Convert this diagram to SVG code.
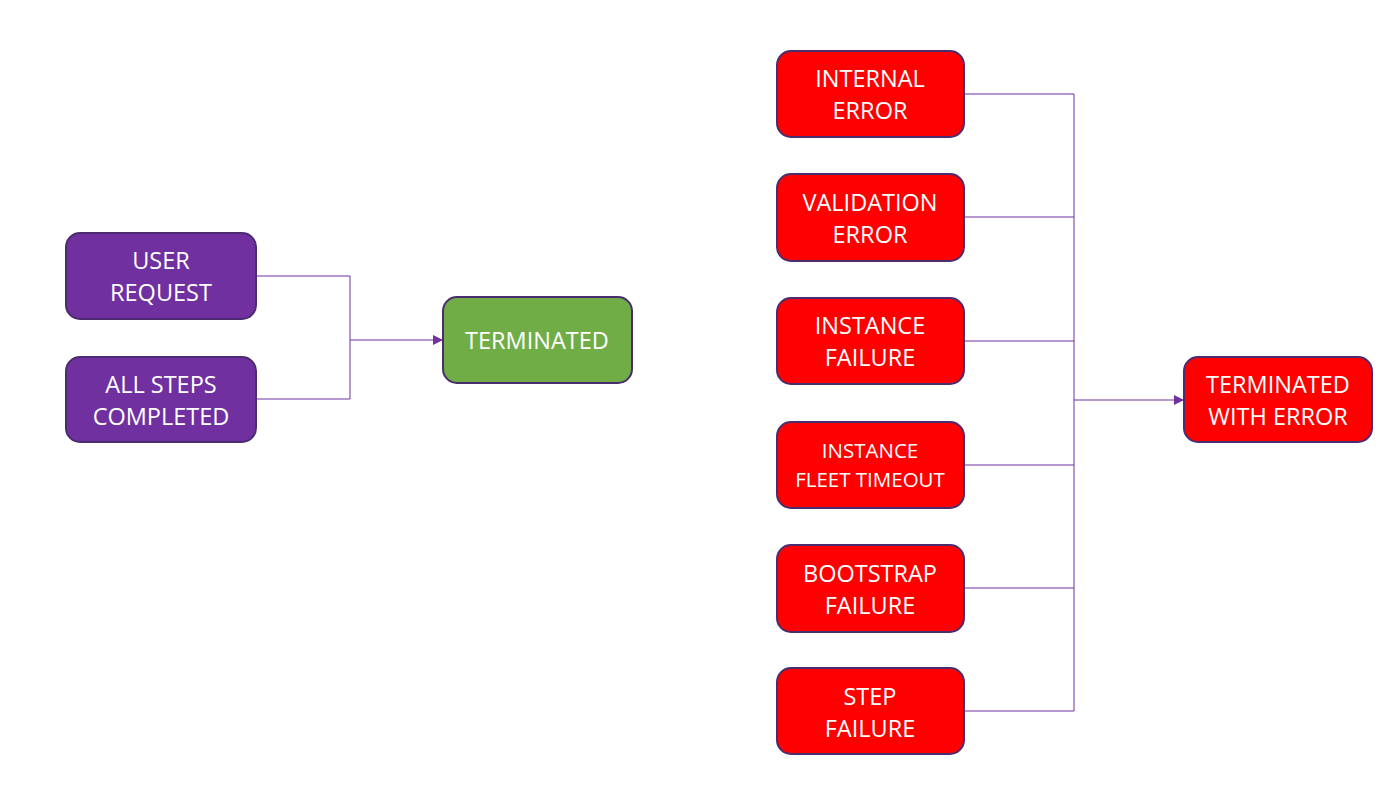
<svg xmlns="http://www.w3.org/2000/svg" width="1400" height="812" viewBox="0 0 1400 812">
<defs>
<marker id="arr" viewBox="0 0 10 10" refX="10" refY="5" markerWidth="10" markerHeight="10" markerUnits="userSpaceOnUse" orient="auto"><path d="M0,0 L10,5 L0,10 z" fill="#7030A0"/></marker>
</defs>
<style>
.box{stroke:#4B2C6E;stroke-width:2}
.p{fill:#7030A0}.g{fill:#70AD47}.r{fill:#FF0000}
text{font-family:"Open Sans","Liberation Sans",sans-serif;font-size:23.5px;fill:#FFFFFF;text-anchor:middle}
.sm{font-size:20.5px}
.c{fill:none;stroke:#7030A0;stroke-width:1}
</style>
<rect width="1400" height="812" fill="#FFFFFF"/>
<g id="connectors">
<polyline class="c" points="256,276 350,276 350,399 256,399"/>
<line class="c" x1="350" y1="340" x2="443" y2="340" marker-end="url(#arr)"/>
<polyline class="c" points="964,94 1074,94 1074,711 964,711"/>
<line class="c" x1="964" y1="217" x2="1074" y2="217"/>
<line class="c" x1="964" y1="341" x2="1074" y2="341"/>
<line class="c" x1="964" y1="465" x2="1074" y2="465"/>
<line class="c" x1="964" y1="588" x2="1074" y2="588"/>
<line class="c" x1="1074" y1="400" x2="1184" y2="400" marker-end="url(#arr)"/>
</g>
<g id="user-request"><rect class="box p" x="66" y="233" width="190" height="86" rx="14"/><text x="161" y="269">USER</text><text x="161" y="301">REQUEST</text></g>
<g id="all-steps-completed"><rect class="box p" x="66" y="357" width="190" height="85" rx="14"/><text x="161" y="393">ALL STEPS</text><text x="161" y="425">COMPLETED</text></g>
<g id="terminated"><rect class="box g" x="443" y="297" width="189" height="86" rx="14"/><text x="537" y="349">TERMINATED</text></g>
<g id="internal-error"><rect class="box r" x="777" y="51" width="187" height="86" rx="14"/><text x="870" y="87">INTERNAL</text><text x="870" y="119">ERROR</text></g>
<g id="validation-error"><rect class="box r" x="777" y="174" width="187" height="87" rx="14"/><text x="870" y="211">VALIDATION</text><text x="870" y="243">ERROR</text></g>
<g id="instance-failure"><rect class="box r" x="777" y="298" width="187" height="86" rx="14"/><text x="870" y="334">INSTANCE</text><text x="870" y="366">FAILURE</text></g>
<g id="instance-fleet-timeout"><rect class="box r" x="777" y="422" width="187" height="86" rx="14"/><text class="sm" x="870" y="458">INSTANCE</text><text class="sm" x="870" y="487">FLEET TIMEOUT</text></g>
<g id="bootstrap-failure"><rect class="box r" x="777" y="545" width="187" height="87" rx="14"/><text x="870" y="582">BOOTSTRAP</text><text x="870" y="614">FAILURE</text></g>
<g id="step-failure"><rect class="box r" x="777" y="668" width="187" height="86" rx="14"/><text x="870" y="705">STEP</text><text x="870" y="737">FAILURE</text></g>
<g id="terminated-with-error"><rect class="box r" x="1184" y="357" width="188" height="85" rx="14"/><text x="1278" y="393">TERMINATED</text><text x="1278" y="425">WITH ERROR</text></g>
</svg>
